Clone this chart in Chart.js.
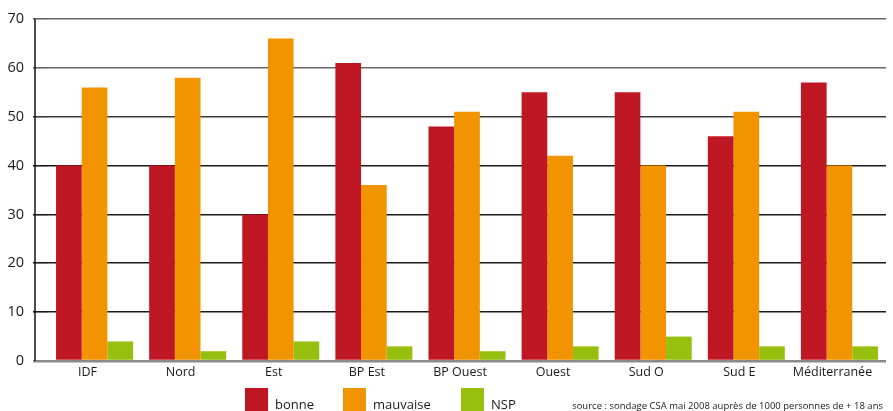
<!DOCTYPE html>
<html><head><meta charset="utf-8">
<script src="https://cdn.jsdelivr.net/npm/chart.js@4"></script>
<style>
html,body{margin:0;padding:0;background:#fff;overflow:hidden}
#wrap{position:relative;width:893px;height:411px;overflow:hidden}
canvas{position:absolute;left:0;top:0}
.t{position:absolute;font-family:"Open Sans",sans-serif;color:#1a1a1a;white-space:nowrap}
.sq{position:absolute;width:23px;height:23px}
</style></head><body>
<div id="wrap"><canvas id="c" width="893" height="411"></canvas></div>
<script>
const categories = ["IDF","Nord","Est","BP Est","BP Ouest","Ouest","Sud O","Sud E","Méditerranée"];
const bonne    = [40,40,30,61,48,55,55,46,57];
const mauvaise = [56,58,66,36,51,42,40,51,40];
const nsp      = [4,2,4,3,2,3,5,3,3];
const seriesNames = ["bonne","mauvaise","NSP"];
const seriesColors = ["#BE1622","#F29400","#97BF0D"];
const yMin = 0, yMax = 70, yStep = 10;
const sourceText = "source : sondage CSA mai 2008 auprès de 1000 personnes de + 18 ans";

const FONT = '"Open Sans", sans-serif';

const axisLine = {
  id: 'axisLine',
  afterDraw(chart) {
    const {ctx, chartArea, scales: {y}} = chart;
    const x = chartArea.left - 13;
    ctx.save();
    ctx.strokeStyle = '#111';
    ctx.lineWidth = 1.5;
    ctx.beginPath();
    ctx.moveTo(x, y.getPixelForValue(yMax));
    ctx.lineTo(x, y.getPixelForValue(yMin));
    ctx.stroke();
    ctx.restore();
  }
};

const chart = new Chart(document.getElementById('c'), {
  type: 'bar',
  data: {
    labels: categories,
    datasets: [bonne, mauvaise, nsp].map((d, i) => ({
      label: seriesNames[i], data: d, backgroundColor: seriesColors[i],
      borderWidth: 0, categoryPercentage: 0.827, barPercentage: 1.0
    }))
  },
  options: {
    responsive: false, animation: false, devicePixelRatio: 1,
    layout: { padding: { top: 19, right: 7, left: 0, bottom: 0 } },
    plugins: { legend: { display: false }, tooltip: { enabled: false } },
    scales: {
      x: {
        grid: { display: false, drawTicks: false },
        border: { display: false },
        ticks: { color: '#1a1a1a', font: { family: FONT, size: 12.5 }, padding: 4, labelOffset: -7, maxRotation: 0, autoSkip: false },
        afterFit: s => { s.height = 50; }
      },
      y: {
        min: yMin, max: yMax,
        ticks: { stepSize: yStep, color: '#1a1a1a', font: { family: FONT, size: 14.5, weight: 500 }, padding: 9 },
        grid: {
          tickLength: 15,
          color: c => c.tick.value === 0 ? '#8a8a8a' : (c.tick.value >= 60 ? '#666' : (c.tick.value === 50 ? '#3a3a3a' : '#1a1a1a')),
          lineWidth: c => c.tick.value === 0 ? 2.5 : 1.6
        },
        border: { display: false },
        afterFit: s => { s.width = 48; }
      }
    }
  },
  plugins: [axisLine]
});

const wrap = document.getElementById('wrap');
const legX = [245, 343, 461];
seriesNames.forEach((n, i) => {
  const sq = document.createElement('div');
  sq.className = 'sq';
  sq.style.left = legX[i] + 'px'; sq.style.top = '388px';
  sq.style.background = seriesColors[i];
  wrap.appendChild(sq);
  const t = document.createElement('div');
  t.className = 't';
  t.style.left = (legX[i] + 30) + 'px'; t.style.top = '395px';
  t.style.fontSize = '13px'; t.style.lineHeight = '18px';
  t.textContent = n;
  wrap.appendChild(t);
});
const src = document.createElement('div');
src.className = 't';
src.style.right = (893 - 883) + 'px'; src.style.top = '400px';
src.style.fontSize = '9.5px'; src.style.lineHeight = '12px';
src.textContent = sourceText;
wrap.appendChild(src);
</script>
</body></html>
